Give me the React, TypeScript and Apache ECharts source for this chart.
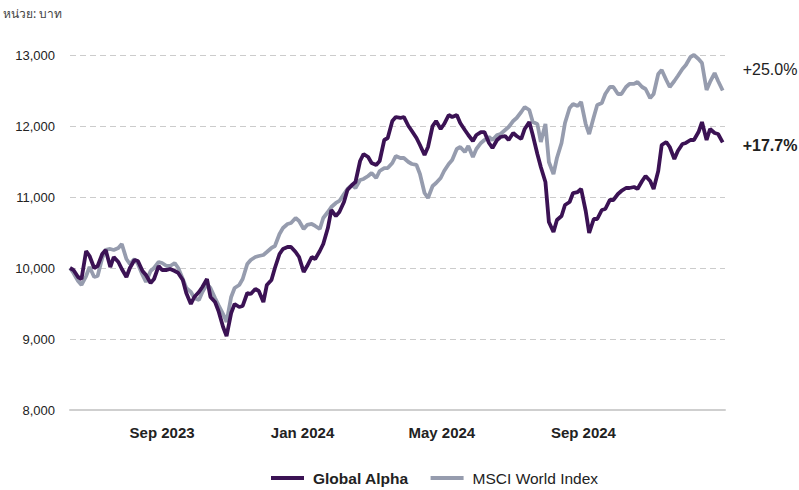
import React, { useEffect, useRef } from "react";
import * as echarts from "echarts";

// Sample dates (Tuesdays and Fridays)
const DATES: string[] = [
  "2023-06-13", "2023-06-16", "2023-06-20", "2023-06-23", "2023-06-27", "2023-06-30",
  "2023-07-04", "2023-07-07", "2023-07-11", "2023-07-14", "2023-07-18", "2023-07-21", "2023-07-25", "2023-07-28",
  "2023-08-01", "2023-08-04", "2023-08-08", "2023-08-11", "2023-08-15", "2023-08-18", "2023-08-22", "2023-08-25", "2023-08-29", "2023-09-01",
  "2023-09-05", "2023-09-08", "2023-09-12", "2023-09-15", "2023-09-19", "2023-09-22", "2023-09-26", "2023-09-29",
  "2023-10-03", "2023-10-06", "2023-10-10", "2023-10-13", "2023-10-17", "2023-10-20", "2023-10-24", "2023-10-27", "2023-10-31", "2023-11-03",
  "2023-11-07", "2023-11-10", "2023-11-14", "2023-11-17", "2023-11-21", "2023-11-24", "2023-11-28", "2023-12-01",
  "2023-12-05", "2023-12-08", "2023-12-12", "2023-12-15", "2023-12-19", "2023-12-22", "2023-12-26", "2023-12-29",
  "2024-01-02", "2024-01-05", "2024-01-09", "2024-01-12", "2024-01-16", "2024-01-19", "2024-01-23", "2024-01-26", "2024-01-30", "2024-02-02",
  "2024-02-06", "2024-02-09", "2024-02-13", "2024-02-16", "2024-02-20", "2024-02-23", "2024-02-27", "2024-03-01",
  "2024-03-05", "2024-03-08", "2024-03-12", "2024-03-15", "2024-03-19", "2024-03-22", "2024-03-26", "2024-03-29",
  "2024-04-02", "2024-04-05", "2024-04-09", "2024-04-12", "2024-04-16", "2024-04-19", "2024-04-23", "2024-04-26", "2024-04-30", "2024-05-03",
  "2024-05-07", "2024-05-10", "2024-05-14", "2024-05-17", "2024-05-21", "2024-05-24", "2024-05-28", "2024-05-31",
  "2024-06-04", "2024-06-07", "2024-06-11", "2024-06-14", "2024-06-18", "2024-06-21", "2024-06-25", "2024-06-28",
  "2024-07-02", "2024-07-05", "2024-07-09", "2024-07-12", "2024-07-16", "2024-07-19", "2024-07-23", "2024-07-26", "2024-07-30", "2024-08-02",
  "2024-08-06", "2024-08-09", "2024-08-13", "2024-08-16", "2024-08-20", "2024-08-23", "2024-08-27", "2024-08-30",
  "2024-09-03", "2024-09-06", "2024-09-10", "2024-09-13", "2024-09-17", "2024-09-20", "2024-09-24", "2024-09-27",
  "2024-10-01", "2024-10-04", "2024-10-08", "2024-10-11", "2024-10-15", "2024-10-18", "2024-10-22", "2024-10-25", "2024-10-29", "2024-11-01",
  "2024-11-05", "2024-11-08", "2024-11-12", "2024-11-15", "2024-11-19", "2024-11-22", "2024-11-26", "2024-11-29",
  "2024-12-03", "2024-12-06", "2024-12-10", "2024-12-13", "2024-12-17", "2024-12-20", "2024-12-24", "2024-12-27", "2024-12-31",
];

const GLOBAL_ALPHA: number[] = [
  10000, 9972, 9873, 9845, 10239, 10169,
  10000, 10028, 10197, 10254, 10014, 10155, 10085, 9986,
  9873, 10000, 10113, 10099, 9958, 9901, 9789, 9845, 10028, 9972,
  9972, 9986, 9958, 9930, 9831, 9648, 9493, 9592,
  9662, 9732, 9845, 9592, 9521, 9394, 9169, 9042, 9366, 9493,
  9451, 9465, 9648, 9634, 9704, 9676, 9521, 9761,
  9831, 10000, 10197, 10268, 10296, 10296, 10225, 10155,
  9944, 10028, 10155, 10127, 10239, 10338, 10563, 10817, 10732, 10789,
  10930, 11099, 11169, 11211, 11507, 11606, 11563, 11479,
  11451, 11507, 11803, 11831, 12070, 12127, 12113, 12127,
  12000, 11930, 11831, 11732, 11592, 11704, 12000, 12070, 11958, 12028,
  12155, 12127, 12155, 12042, 11944, 11873, 11789, 11873,
  11915, 11915, 11761, 11690, 11803, 11845, 11859, 11803,
  11901, 11859, 11817, 11958, 12056, 11873, 11606, 11423, 11211, 10648,
  10507, 10676, 10732, 10887, 10930, 11056, 11070, 11113,
  10803, 10493, 10690, 10690, 10817, 10831, 10958, 10958,
  11042, 11085, 11127, 11127, 11141, 11113, 11225, 11296, 11225, 11113,
  11366, 11732, 11775, 11704, 11535, 11648, 11746, 11761,
  11803, 11803, 11915, 12056, 11803, 11958, 11901, 11887, 11770,
];

const MSCI_WORLD: number[] = [
  10000, 9930, 9817, 9761, 9887, 10014,
  9873, 9887, 10141, 10254, 10268, 10254, 10282, 10338,
  10127, 10056, 10127, 10056, 9901, 9803, 9958, 10000, 10085, 10070,
  10028, 10028, 10070, 10000, 9845, 9718, 9662, 9577,
  9549, 9662, 9775, 9718, 9577, 9479, 9352, 9239, 9592, 9718,
  9761, 9845, 10056, 10113, 10155, 10169, 10183, 10225,
  10282, 10310, 10479, 10563, 10620, 10634, 10704, 10662,
  10549, 10606, 10620, 10592, 10549, 10704, 10789, 10859, 10916, 10944,
  11042, 11113, 11169, 11127, 11239, 11254, 11296, 11338,
  11268, 11366, 11408, 11408, 11479, 11577, 11549, 11549,
  11493, 11465, 11451, 11324, 11056, 10986, 11155, 11197, 11268, 11366,
  11465, 11521, 11676, 11704, 11634, 11718, 11563, 11676,
  11761, 11803, 11845, 11803, 11873, 11887, 11944, 11986,
  12070, 12113, 12197, 12268, 12225, 12056, 12028, 11775, 12028, 11493,
  11324, 11549, 11761, 12042, 12254, 12310, 12282, 12338,
  12028, 11887, 12127, 12296, 12324, 12451, 12549, 12549,
  12451, 12451, 12549, 12592, 12592, 12620, 12549, 12521, 12394, 12451,
  12732, 12789, 12648, 12549, 12634, 12704, 12803, 12859,
  12972, 13000, 12944, 12887, 12507, 12620, 12746, 12634, 12500,
];

const X_LABEL_DATES: string[] = ["2023-09-01", "2024-01-01", "2024-05-01", "2024-09-01"];
const MONTHS: string[] = ["Jan", "Feb", "Mar", "Apr", "May", "Jun", "Jul", "Aug", "Sep", "Oct", "Nov", "Dec"];
const X_MIN = "2023-06-13";
const X_MAX = "2025-01-02";
const Y_MIN = 8000;
const Y_MAX = 13000;
const Y_STEP = 1000;
const UNIT_LABEL = "หน่วย: บาท";
const SERIES_NAMES = ["Global Alpha", "MSCI World Index"];

const PURPLE = "#3b1254";
const GREY = "#969cae";
const FONT = "'Liberation Sans', Arial, sans-serif";
// legend key: 33px bar followed by 4px of empty space
const LEGEND_ICON = "path://M0,0L33,0L33,4L0,4Z M37,0L37,4";

function toTs(s: string): number {
  const [y, m, d] = s.split("-").map(Number);
  return new Date(y, m - 1, d).getTime();
}

function pct(arr: number[]): string {
  const v = (arr[arr.length - 1] / arr[0] - 1) * 100;
  return (v >= 0 ? "+" : "") + v.toFixed(1) + "%";
}

export default function App() {
  const ref = useRef<HTMLDivElement>(null);

  useEffect(() => {
    if (!ref.current) return;
    const chart = echarts.init(ref.current, null, { renderer: "svg" });

    const ga = DATES.map((d, i) => [toTs(d), GLOBAL_ALPHA[i]]);
    const msci = DATES.map((d, i) => [toTs(d), MSCI_WORLD[i]]);

    chart.setOption({
      animation: false,
      textStyle: { fontFamily: FONT },
      grid: { left: 70, right: 74, top: 55, bottom: 80, containLabel: false },
      graphic: [
        {
          type: "text",
          left: 3,
          top: 7,
          style: {
            text: UNIT_LABEL,
            fontSize: 12,
            fill: "#444",
            fontFamily: "'Noto Sans', 'DejaVu Sans', sans-serif",
          },
        },
      ],
      legend: {
        top: 465,
        left: 266,
        icon: LEGEND_ICON,
        itemWidth: 37,
        itemHeight: 4,
        itemGap: 22,
        itemStyle: { borderWidth: 0 },
        textStyle: { fontSize: 15.5, color: "#222", fontFamily: FONT },
        data: [
          { name: SERIES_NAMES[0], textStyle: { fontWeight: "bold" } },
          { name: SERIES_NAMES[1] },
        ],
      },
      xAxis: {
        type: "value",
        min: toTs(X_MIN),
        max: toTs(X_MAX),
        axisLine: { show: true, lineStyle: { color: "#cfcfcf", width: 2 } },
        axisTick: { show: false },
        splitLine: { show: false },
        axisLabel: {
          customValues: X_LABEL_DATES.map(toTs),
          formatter: (val: number) => {
            const d = new Date(val);
            return MONTHS[d.getMonth()] + " " + d.getFullYear();
          },
          fontSize: 15,
          fontWeight: "bold",
          color: "#222",
          margin: 15,
        },
      },
      yAxis: {
        type: "value",
        min: Y_MIN,
        max: Y_MAX,
        interval: Y_STEP,
        axisLine: { show: false },
        axisTick: { show: false },
        splitLine: {
          show: true,
          lineStyle: { color: "#cccccc", width: 1, type: [6, 4] },
        },
        axisLabel: {
          fontSize: 13,
          color: "#222",
          margin: 15,
          formatter: (v: number) => v.toLocaleString("en-US"),
        },
      },
      series: [
        {
          name: SERIES_NAMES[1],
          type: "line",
          data: msci,
          showSymbol: false,
          symbol: "none",
          color: GREY,
          lineStyle: { color: GREY, width: 3.8 },
          endLabel: {
            show: true,
            formatter: () => pct(MSCI_WORLD),
            distance: 20,
            offset: [0, -21],
            fontSize: 16,
            color: "#222",
            fontFamily: FONT,
          },
          z: 2,
        },
        {
          name: SERIES_NAMES[0],
          type: "line",
          data: ga,
          showSymbol: false,
          symbol: "none",
          color: PURPLE,
          lineStyle: { color: PURPLE, width: 3.8 },
          endLabel: {
            show: true,
            formatter: () => pct(GLOBAL_ALPHA),
            distance: 20,
            offset: [0, 3],
            fontSize: 16,
            fontWeight: "bold",
            color: "#222",
            fontFamily: FONT,
          },
          z: 3,
        },
      ],
    });

    return () => {
      chart.dispose();
    };
  }, []);

  return (
    <div
      ref={ref}
      style={{ position: "fixed", left: 0, top: 0, width: 799, height: 490, background: "#fff" }}
    />
  );
}
